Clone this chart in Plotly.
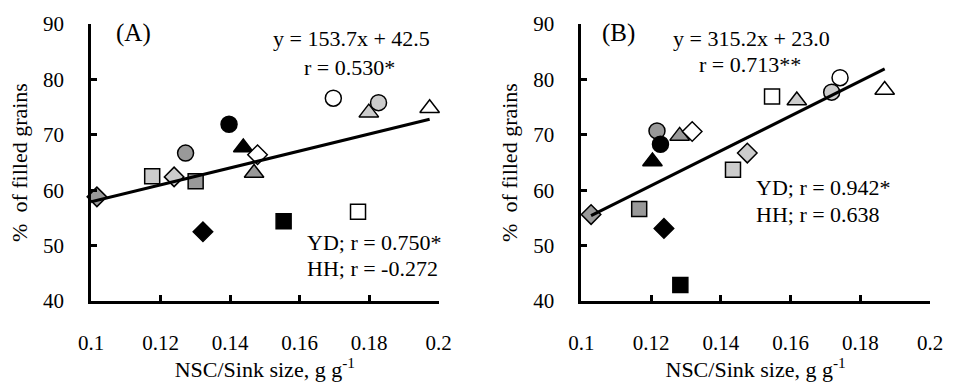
import plotly.graph_objects as go
from plotly.subplots import make_subplots

# ---------------- data ----------------
fill_names = ["white", "light", "grey", "black"]
fill_colors = ["#ffffff", "#cccccc", "#999999", "#000000"]
shapes = ["circle", "triangle-up", "square", "diamond"]

# Panel A (order of each list: white, light, grey, black)
A_circle_x = [0.1697, 0.1827, 0.1272, 0.1397]
A_circle_y = [76.6, 75.8, 66.7, 71.9]
A_triangle_x = [0.1974, 0.1799, 0.1469, 0.1438]
A_triangle_y = [74.8, 74.0, 63.1, 67.7]
A_square_x = [0.1768, 0.1176, 0.1301, 0.1554]
A_square_y = [56.1, 62.5, 61.6, 54.4]
A_diamond_x = [0.1479, 0.1239, 0.1017, 0.1322]
A_diamond_y = [66.4, 62.4, 58.8, 52.5]

# Panel B
B_circle_x = [0.1742, 0.1718, 0.1217, 0.1227]
B_circle_y = [80.3, 77.7, 70.7, 68.3]
B_triangle_x = [0.1870, 0.1618, 0.1282, 0.1204]
B_triangle_y = [78.1, 76.2, 69.8, 65.2]
B_square_x = [0.1547, 0.1435, 0.1166, 0.1284]
B_square_y = [76.9, 63.7, 56.6, 42.9]
B_diamond_x = [0.1318, 0.1476, 0.1028, 0.1237]
B_diamond_y = [70.6, 66.7, 55.6, 53.1]

# regression lines (end points)
A_fit_x = [0.1, 0.1974]
A_fit_y = [57.9, 72.8]
B_fit_x = [0.1028, 0.1870]
B_fit_y = [55.4, 81.9]

x_tickvals = [0.1, 0.12, 0.14, 0.16, 0.18, 0.2]
x_ticktext = ["0.1", "0.12", "0.14", "0.16", "0.18", "0.2"]
y_tickvals = [40, 50, 60, 70, 80, 90]

FONT = "Liberation Serif, Times New Roman, serif"

fig = make_subplots(rows=1, cols=2, horizontal_spacing=0.17)

marker_size = {"circle": 16, "triangle-up": 17, "square": 15, "diamond": 15}

def add_panel(col, data, fit_x, fit_y):
    for shp, (xs, ys) in zip(shapes, data):
        fig.add_trace(go.Scatter(
            x=xs, y=ys, mode="markers", cliponaxis=False, showlegend=False,
            marker=dict(symbol=shp, size=marker_size[shp], color=fill_colors,
                        line=dict(color="#000000", width=1.5)),
        ), row=1, col=col)
    fig.add_trace(go.Scatter(x=fit_x, y=fit_y, mode="lines", cliponaxis=False,
                             showlegend=False, line=dict(color="#000000", width=3)),
                  row=1, col=col)

add_panel(1, [(A_circle_x, A_circle_y), (A_triangle_x, A_triangle_y),
              (A_square_x, A_square_y), (A_diamond_x, A_diamond_y)], A_fit_x, A_fit_y)
add_panel(2, [(B_circle_x, B_circle_y), (B_triangle_x, B_triangle_y),
              (B_square_x, B_square_y), (B_diamond_x, B_diamond_y)], B_fit_x, B_fit_y)

axis_common = dict(showline=True, linecolor="#000000", linewidth=2.5, ticks="inside",
                   ticklen=6, tickwidth=2.5, tickcolor="#000000", showgrid=False,
                   zeroline=False, tickfont=dict(family=FONT, size=21, color="#000000"))

for i, dom in [(1, [0.0, 0.4144]), (2, [0.5844, 1.0])]:
    fig.update_xaxes(range=[0.1, 0.2], tickvals=x_tickvals, ticktext=x_ticktext,
                     domain=dom, ticklabelstandoff=21,
                     title=dict(text="NSC/Sink size, g g<sup>-1</sup>", standoff=0,
                                font=dict(family=FONT, size=22, color="#000000")),
                     row=1, col=i, **axis_common)
    fig.update_yaxes(range=[40, 90], tickvals=y_tickvals, ticklabelstandoff=20,
                     title=dict(text="%  of filled grains", standoff=10,
                                font=dict(family=FONT, size=22, color="#000000")),
                     row=1, col=i, **axis_common)

annotations = [
    ("x", "y", 0.1122, 88.3, "(A)", "center", 25),
    ("x", "y", 0.1748, 87.4, "y = 153.7x + 42.5", "center", 22),
    ("x", "y", 0.1743, 82.2, "r = 0.530*", "center", 22),
    ("x", "y", 0.1615, 50.5, "YD; r = 0.750*", "left", 22),
    ("x", "y", 0.1615, 45.8, "HH; r = -0.272", "left", 22),
    ("x2", "y2", 0.1108, 88.3, "(B)", "center", 25),
    ("x2", "y2", 0.1489, 87.4, "y = 315.2x + 23.0", "center", 22),
    ("x2", "y2", 0.1485, 82.7, "r = 0.713**", "center", 22),
    ("x2", "y2", 0.1495, 60.4, "YD; r = 0.942*", "left", 22),
    ("x2", "y2", 0.1495, 55.7, "HH; r = 0.638", "left", 22),
]
for xr, yr, x, y, t, anc, fs in annotations:
    fig.add_annotation(xref=xr, yref=yr, x=x, y=y, text=t, showarrow=False,
                       xanchor=anc, yanchor="middle",
                       font=dict(family=FONT, size=fs, color="#000000"))

fig.update_layout(width=955, height=382, margin=dict(l=91, r=17, t=21, b=73),
                  plot_bgcolor="#ffffff", paper_bgcolor="#ffffff",
                  font=dict(family=FONT, color="#000000"))

fig.write_html("out.html", config={"displayModeBar": False},
               post_script="document.body.style.margin='0';document.body.style.overflow='hidden';")
